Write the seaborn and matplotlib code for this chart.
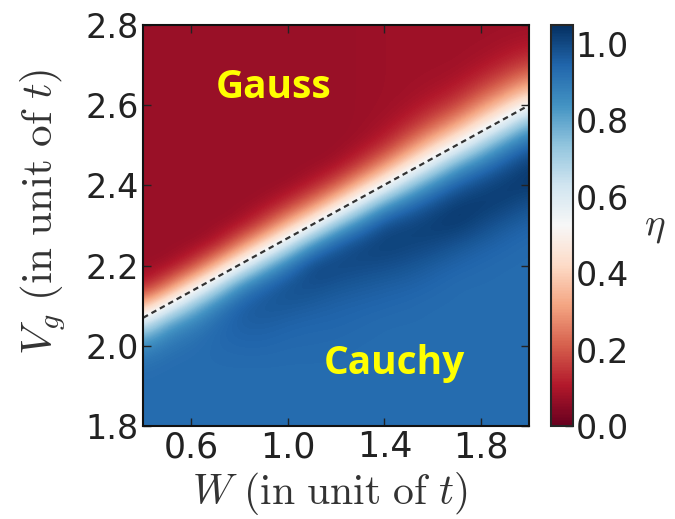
import numpy as np
import matplotlib
matplotlib.use("Agg")
import matplotlib.pyplot as plt
import seaborn as sns

# ---- data ----
W_VALUES = [0.4, 0.5, 0.6, 0.7, 0.8, 0.9, 1.0, 1.1, 1.2, 1.3, 1.4, 1.5, 1.6, 1.7, 1.8, 1.9, 2.0]
VG_VALUES = [1.80, 1.85, 1.90, 1.95, 2.00, 2.05, 2.10, 2.15, 2.20, 2.25, 2.30,
             2.35, 2.40, 2.45, 2.50, 2.55, 2.60, 2.65, 2.70, 2.75, 2.80]
# eta[Vg row][W column], bottom row = Vg 1.80
ETA_GRID = [
    [.93, .93, .93, .93, .93, .93, .93, .93, .93, .93, .93, .93, .93, .93, .93, .93, .93],
    [.93, .93, .93, .93, .93, .93, .93, .93, .93, .93, .93, .93, .93, .93, .93, .93, .93],
    [.93, .93, .93, .93, .93, .93, .93, .93, .93, .93, .93, .93, .93, .93, .93, .93, .93],
    [.92, .93, .93, .93, .93, .93, .93, .93, .93, .93, .93, .93, .93, .93, .93, .93, .93],
    [.86, .91, .925, .935, .94, .94, .935, .935, .933, .93, .93, .93, .93, .93, .93, .93, .93],
    [.65, .83, .89, .935, .955, .955, .945, .94, .94, .935, .93, .93, .93, .93, .93, .93, .93],
    [.33, .55, .74, .88, .96, .975, .97, .96, .95, .945, .94, .935, .93, .93, .93, .93, .93],
    [.10, .22, .435, .65, .855, .945, .99, .99, .975, .966, .957, .95, .94, .93, .93, .93, .93],
    [.07, .075, .145, .33, .55, .76, .905, 1.01, 1.005, .997, .99, .978, .96, .945, .935, .93, .93],
    [.07, .07, .07, .10, .25, .445, .65, .855, .97, 1.01, 1.02, 1.01, 1.0, .975, .955, .94, .93],
    [.07, .07, .07, .07, .085, .18, .35, .54, .755, .90, 1.0, 1.012, 1.026, 1.03, .996, .966, .945],
    [.07, .07, .07, .07, .07, .08, .14, .26, .44, .645, .833, .932, .992, 1.03, 1.03, 1.013, .98],
    [.07, .07, .07, .07, .07, .07, .07, .105, .19, .355, .535, .724, .868, .962, 1.004, 1.03, 1.03],
    [.07, .07, .07, .07, .07, .07, .07, .07, .082, .15, .28, .453, .627, .803, .902, .977, 1.03],
    [.07, .07, .07, .07, .07, .07, .07, .07, .07, .082, .126, .239, .386, .535, .71, .851, .95],
    [.07, .07, .07, .07, .07, .07, .07, .07, .07, .075, .085, .124, .204, .312, .463, .618, .80],
    [.07, .07, .07, .07, .07, .07, .07, .07, .07, .075, .078, .087, .115, .163, .272, .391, .53],
    [.07, .07, .07, .07, .07, .07, .07, .07, .07, .075, .078, .08, .085, .10, .148, .221, .32],
    [.07, .07, .07, .07, .07, .07, .07, .07, .07, .075, .078, .08, .08, .08, .094, .124, .17],
    [.07, .07, .07, .07, .07, .07, .07, .07, .07, .075, .078, .08, .08, .08, .08, .087, .10],
    [.07, .07, .07, .07, .07, .07, .07, .07, .07, .075, .078, .08, .08, .08, .08, .08, .08],
]
BOUNDARY_W = [0.4, 2.0]
BOUNDARY_VG = [2.07, 2.60]
X_TICKS = [0.6, 1.0, 1.4, 1.8]
Y_TICKS = [1.8, 2.0, 2.2, 2.4, 2.6, 2.8]
CBAR_TICKS = [0.0, 0.2, 0.4, 0.6, 0.8, 1.0]
ETA_MIN, ETA_MAX = 0.0, 1.05

# ---- style ----
sns.set_style("ticks")
plt.rcParams["font.family"] = ["DejaVu Sans"]
plt.rcParams["mathtext.fontset"] = "cm"
plt.rcParams["xtick.direction"] = "in"
plt.rcParams["ytick.direction"] = "in"

cmap = sns.color_palette("RdBu", as_cmap=True)

fig = plt.figure(figsize=(6.75, 5.19), dpi=100)
ax = fig.add_axes([0.212, 0.179, 0.572, 0.773])
cax = fig.add_axes([0.816, 0.179, 0.033, 0.773])

eta = np.array(ETA_GRID)
dw = W_VALUES[1] - W_VALUES[0]
dv = VG_VALUES[1] - VG_VALUES[0]
im = ax.imshow(eta, origin="lower", cmap=cmap, vmin=ETA_MIN, vmax=ETA_MAX,
               interpolation="bicubic", aspect="auto",
               extent=[W_VALUES[0] - dw / 2, W_VALUES[-1] + dw / 2,
                       VG_VALUES[0] - dv / 2, VG_VALUES[-1] + dv / 2])
ax.plot(BOUNDARY_W, BOUNDARY_VG, color="#333333", lw=1.6, linestyle=(0, (2.5, 1.8)))

ax.set_xlim(W_VALUES[0], W_VALUES[-1])
ax.set_ylim(VG_VALUES[0], VG_VALUES[-1])
ax.set_xticks(X_TICKS)
ax.set_yticks(Y_TICKS)
ax.set_xticklabels([f"{v:.1f}" for v in X_TICKS], fontsize=25)
ax.set_yticklabels([f"{v:.1f}" for v in Y_TICKS], fontsize=24)
ax.tick_params(axis="both", which="major", length=6, width=1, color="#222222",
               top=True, right=True, labelcolor="#222222")
ax.tick_params(axis="x", pad=3)
ax.tick_params(axis="y", pad=3)
for s in ax.spines.values():
    s.set_linewidth(1.5)
    s.set_color("#111111")

ax.set_xlabel(r"$W\ \mathrm{(in\ unit\ of\ }t\mathrm{)}$", fontsize=30, color="#333333")
ax.set_ylabel(r"$V_g\ \mathrm{(in\ unit\ of\ }t\mathrm{)}$", fontsize=31, color="#333333")
ax.xaxis.set_label_coords(0.484, -0.11)
ax.yaxis.set_label_coords(-0.195, 0.534)

ax.text(0.94, 2.645, "Gauss", color="#ffff00", fontsize=28, fontweight="bold",
        family="Open Sans", ha="center", va="center")
ax.text(1.44, 1.957, "Cauchy", color="#ffff00", fontsize=28, fontweight="bold",
        family="Open Sans", ha="center", va="center")

cb = fig.colorbar(im, cax=cax, ticks=CBAR_TICKS)
cb.ax.set_yticklabels([f"{v:.1f}" for v in CBAR_TICKS], fontsize=24, color="#222222")
cb.ax.tick_params(direction="in", length=6, width=1, pad=2)
cb.outline.set_linewidth(1.5)
cb.set_label(r"$\eta$", fontsize=28, rotation=0, labelpad=18, color="#333333", va="center")

fig.savefig("out.png", dpi=100)
